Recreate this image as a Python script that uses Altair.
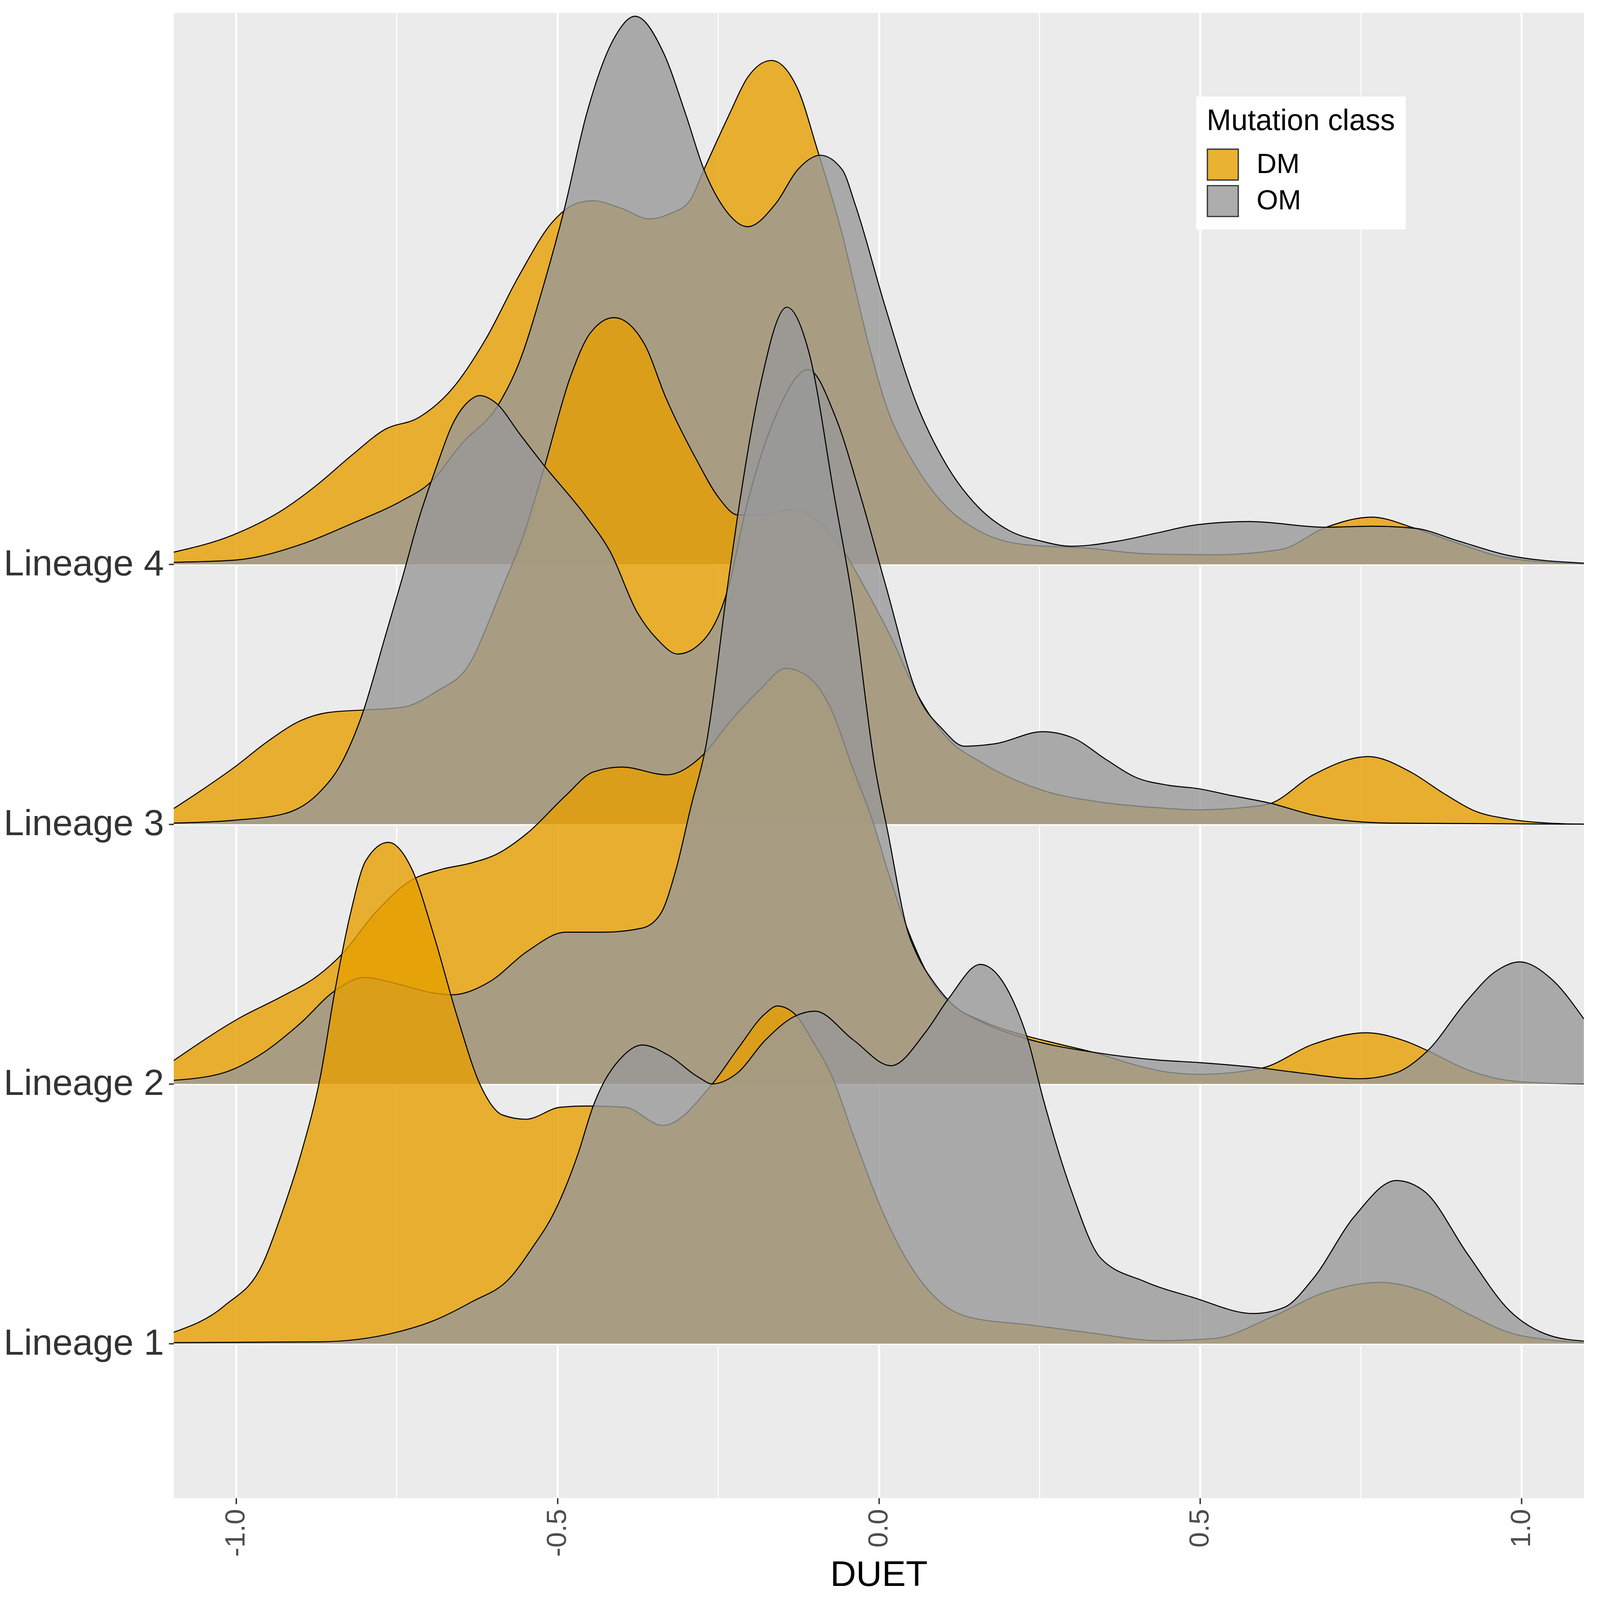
import json
import altair as alt
import pandas as pd

lineages = ["Lineage 1", "Lineage 2", "Lineage 3", "Lineage 4"]
classes = ["DM", "OM"]
class_colors = ["#E69F00", "#999999"]
x_major = [-1.0, -0.5, 0.0, 0.5, 1.0]
x_minor = [-0.75, -0.25, 0.25, 0.75]
x_range = [-1.097, 1.097]
y_range = [0.406, 6.124]

# (DUET value, ridge height above the lineage baseline)
l4_dm = [(-1.097, 0.047), (-1.005, 0.113), (-0.924, 0.215), (-0.872, 0.31), (-0.82, 0.42),
         (-0.768, 0.52), (-0.716, 0.565), (-0.664, 0.675), (-0.612, 0.865), (-0.56, 1.11),
         (-0.507, 1.32), (-0.47, 1.39), (-0.445, 1.40), (-0.40, 1.37), (-0.357, 1.33),
         (-0.325, 1.35), (-0.294, 1.40), (-0.272, 1.52), (-0.233, 1.73), (-0.204, 1.875),
         (-0.167, 1.94), (-0.126, 1.83), (-0.096, 1.60), (-0.06, 1.30), (-0.016, 0.85),
         (0.009, 0.63), (0.057, 0.38), (0.106, 0.22), (0.155, 0.13), (0.227, 0.076),
         (0.322, 0.063), (0.424, 0.04), (0.525, 0.037), (0.625, 0.057), (0.696, 0.143),
         (0.767, 0.182), (0.834, 0.139), (0.902, 0.08), (0.979, 0.024), (1.097, 0.002)]
l4_om = [(-1.097, 0.008), (-1.0, 0.017), (-0.9, 0.076), (-0.82, 0.157), (-0.742, 0.245),
         (-0.70, 0.31), (-0.647, 0.47), (-0.593, 0.61), (-0.559, 0.78), (-0.522, 1.07),
         (-0.489, 1.37), (-0.455, 1.73), (-0.413, 2.02), (-0.379, 2.11), (-0.335, 1.97),
         (-0.30, 1.73), (-0.272, 1.52), (-0.243, 1.38), (-0.204, 1.30), (-0.16, 1.39),
         (-0.126, 1.52), (-0.091, 1.575), (-0.057, 1.52), (-0.036, 1.38), (0.009, 1.0),
         (0.057, 0.63), (0.106, 0.38), (0.155, 0.22), (0.203, 0.13), (0.252, 0.09),
         (0.30, 0.07), (0.373, 0.09), (0.431, 0.12), (0.496, 0.153), (0.576, 0.165),
         (0.696, 0.143), (0.767, 0.147), (0.834, 0.139), (0.902, 0.09), (0.979, 0.035),
         (1.097, 0.005)]
l3_dm = [(-1.097, 0.06), (-1.054, 0.13), (-1.002, 0.22), (-0.95, 0.32), (-0.898, 0.40),
         (-0.856, 0.43), (-0.798, 0.44), (-0.741, 0.45), (-0.689, 0.51), (-0.636, 0.62),
         (-0.605, 0.79), (-0.584, 0.92), (-0.553, 1.11), (-0.522, 1.36), (-0.48, 1.72),
         (-0.449, 1.89), (-0.412, 1.95), (-0.365, 1.85), (-0.331, 1.64), (-0.283, 1.40),
         (-0.250, 1.26), (-0.219, 1.19), (-0.185, 1.19), (-0.136, 1.21), (-0.087, 1.15),
         (-0.052, 1.04), (-0.015, 0.88), (0.021, 0.71), (0.060, 0.50), (0.109, 0.325),
         (0.158, 0.24), (0.255, 0.13), (0.345, 0.085), (0.435, 0.063), (0.496, 0.055),
         (0.576, 0.066), (0.61, 0.08), (0.676, 0.19), (0.762, 0.26), (0.828, 0.20),
         (0.878, 0.12), (0.928, 0.05), (0.979, 0.02), (1.05, 0.003), (1.097, 0.0)]
l3_om = [(-1.097, 0.004), (-1.003, 0.015), (-0.925, 0.04), (-0.872, 0.118), (-0.836, 0.235),
         (-0.804, 0.42), (-0.767, 0.73), (-0.741, 0.95), (-0.715, 1.18), (-0.689, 1.37),
         (-0.663, 1.54), (-0.637, 1.63), (-0.621, 1.65), (-0.595, 1.62), (-0.558, 1.50),
         (-0.522, 1.385), (-0.454, 1.18), (-0.418, 1.05), (-0.376, 0.816), (-0.344, 0.71),
         (-0.313, 0.655), (-0.272, 0.71), (-0.233, 0.92), (-0.208, 1.20), (-0.159, 1.58),
         (-0.11, 1.75), (-0.067, 1.565), (-0.028, 1.26), (0.011, 0.917), (0.06, 0.50),
         (0.099, 0.366), (0.133, 0.30), (0.182, 0.31), (0.255, 0.356), (0.304, 0.33),
         (0.353, 0.25), (0.40, 0.18), (0.45, 0.15), (0.496, 0.137), (0.549, 0.11),
         (0.61, 0.08), (0.676, 0.035), (0.73, 0.013), (0.8, 0.004), (1.097, 0.0)]
l2_dm = [(-1.097, 0.09), (-0.99, 0.26), (-0.93, 0.335), (-0.871, 0.42), (-0.835, 0.50),
         (-0.783, 0.66), (-0.73, 0.78), (-0.682, 0.825), (-0.635, 0.85), (-0.594, 0.885),
         (-0.547, 0.965), (-0.487, 1.11), (-0.445, 1.20), (-0.40, 1.22), (-0.33, 1.19),
         (-0.272, 1.27), (-0.233, 1.39), (-0.184, 1.52), (-0.145, 1.60), (-0.106, 1.56),
         (-0.07, 1.42), (-0.044, 1.24), (-0.008, 1.0), (0.014, 0.82), (0.041, 0.62),
         (0.059, 0.51), (0.086, 0.38), (0.109, 0.315), (0.163, 0.24), (0.222, 0.19),
         (0.276, 0.156), (0.339, 0.118), (0.40, 0.072), (0.45, 0.045), (0.50, 0.037),
         (0.596, 0.061), (0.675, 0.152), (0.758, 0.197), (0.819, 0.165), (0.854, 0.128),
         (0.915, 0.055), (0.98, 0.013), (1.05, 0.002), (1.097, 0.0)]
l2_om = [(-1.097, 0.014), (-1.019, 0.043), (-0.96, 0.116), (-0.90, 0.233), (-0.847, 0.357),
         (-0.80, 0.41), (-0.752, 0.387), (-0.693, 0.35), (-0.664, 0.343), (-0.605, 0.394),
         (-0.547, 0.51), (-0.487, 0.584), (-0.428, 0.584), (-0.368, 0.60), (-0.339, 0.657),
         (-0.315, 0.83), (-0.292, 1.07), (-0.269, 1.30), (-0.235, 1.92), (-0.22, 2.18),
         (-0.186, 2.67), (-0.143, 2.99), (-0.108, 2.81), (-0.069, 2.26), (-0.040, 1.85),
         (-0.006, 1.22), (0.014, 0.97), (0.046, 0.58), (0.059, 0.50), (0.086, 0.39),
         (0.109, 0.32), (0.163, 0.235), (0.222, 0.18), (0.339, 0.12), (0.434, 0.092),
         (0.50, 0.082), (0.596, 0.061), (0.653, 0.043), (0.749, 0.02), (0.805, 0.043),
         (0.854, 0.128), (0.915, 0.32), (0.958, 0.43), (0.997, 0.47), (1.046, 0.405),
         (1.097, 0.25)]
l1_dm = [(-1.097, 0.044), (-1.018, 0.146), (-0.958, 0.31), (-0.929, 0.50), (-0.899, 0.73),
         (-0.869, 1.025), (-0.846, 1.36), (-0.822, 1.655), (-0.798, 1.86), (-0.763, 1.93),
         (-0.727, 1.83), (-0.692, 1.57), (-0.656, 1.26), (-0.620, 0.996), (-0.585, 0.88),
         (-0.549, 0.864), (-0.496, 0.91), (-0.455, 0.915), (-0.395, 0.91), (-0.336, 0.84),
         (-0.259, 1.00), (-0.218, 1.14), (-0.177, 1.27), (-0.158, 1.30), (-0.131, 1.27),
         (-0.104, 1.17), (-0.072, 1.025), (-0.04, 0.805), (0.005, 0.513), (0.051, 0.293),
         (0.096, 0.16), (0.141, 0.102), (0.232, 0.073), (0.322, 0.044), (0.435, 0.012),
         (0.522, 0.02), (0.609, 0.10), (0.697, 0.20), (0.78, 0.236), (0.85, 0.20),
         (0.916, 0.116), (0.981, 0.043), (1.045, 0.014), (1.097, 0.004)]
l1_om = [(-1.097, 0.004), (-0.869, 0.007), (-0.75, 0.044), (-0.693, 0.088), (-0.634, 0.16),
         (-0.575, 0.25), (-0.54, 0.366), (-0.504, 0.51), (-0.468, 0.73), (-0.445, 0.91),
         (-0.397, 1.11), (-0.368, 1.15), (-0.327, 1.11), (-0.28, 1.025), (-0.259, 1.00),
         (-0.221, 1.04), (-0.176, 1.17), (-0.131, 1.26), (-0.099, 1.28), (-0.04, 1.17),
         (0.019, 1.07), (0.073, 1.20), (0.109, 1.33), (0.158, 1.46), (0.209, 1.32),
         (0.232, 1.17), (0.255, 0.95), (0.30, 0.586), (0.345, 0.33), (0.413, 0.24),
         (0.489, 0.178), (0.583, 0.116), (0.631, 0.14), (0.675, 0.248), (0.74, 0.49),
         (0.805, 0.628), (0.849, 0.586), (0.916, 0.345), (0.981, 0.128), (1.046, 0.03),
         (1.097, 0.01)]

draw_order = [
    ("Lineage 4", "DM", l4_dm), ("Lineage 4", "OM", l4_om),
    ("Lineage 3", "DM", l3_dm), ("Lineage 3", "OM", l3_om),
    ("Lineage 2", "DM", l2_dm), ("Lineage 2", "OM", l2_om),
    ("Lineage 1", "DM", l1_dm), ("Lineage 1", "OM", l1_om),
]

rows = []
for lin, cls, pts in draw_order:
    for xv, hv in pts:
        rows.append({"lineage": lin, "cls": cls, "key": lin + "|" + cls,
                     "base": lineages.index(lin) + 1, "x": xv, "h": hv})
df = pd.DataFrame(rows)

FONT = "Liberation Sans"

xscale = alt.Scale(domain=x_range, nice=False, zero=False)
yscale = alt.Scale(domain=y_range, nice=False, zero=False)

xaxis = alt.Axis(values=x_major,
                 labelExpr="(datum.value < 0 ? '-' : '') + format(abs(datum.value), '.1f')",
                 labelAngle=270, labelFontSize=79, labelColor="#4D4D4D", labelFont=FONT,
                 labelPadding=14, labelLimit=3000, tickSize=17, tickWidth=4, tickColor="#333333",
                 grid=True, gridColor="white", gridWidth=6, domain=False,
                 title="DUET", titleFontSize=102, titleFontWeight="normal", titleFont=FONT,
                 titleColor="black", titlePadding=2)
yaxis = alt.Axis(values=[1, 2, 3, 4],
                 labelExpr=json.dumps(lineages) + "[datum.value - 1]",
                 labelFontSize=104, labelColor="#333333", labelFont=FONT, labelLimit=3000,
                 labelPadding=14, tickSize=14, tickWidth=4, tickColor="#333333",
                 grid=True, gridColor="white", gridWidth=6, domain=False,
                 title=None)

X = alt.X("x:Q", scale=xscale, axis=xaxis)
Y = alt.Y("top:Q", scale=yscale, axis=yaxis)
legend = alt.Legend(title="Mutation class", orient="none", legendX=2914, legendY=239,
                    fillColor="white", padding=30, titleFontSize=84, titleFont=FONT,
                    titleFontWeight="normal", titleColor="black", titlePadding=34,
                    titleLimit=3000, labelLimit=3000,
                    labelFontSize=79, labelFont=FONT, labelColor="black", labelOffset=50,
                    symbolType="square", symbolSize=7744, symbolStrokeColor="black",
                    symbolStrokeWidth=3.5, symbolOpacity=0.8, rowPadding=2)
COLOR = alt.Color("cls:N", scale=alt.Scale(domain=classes, range=class_colors), legend=legend)

base = alt.Chart(df).transform_calculate(top="datum.base + datum.h")

minor = alt.Chart(pd.DataFrame({"x": x_minor})).mark_rule(
    color="white", strokeWidth=3).encode(x=X)

layers = [minor]
for lin, cls, _ in draw_order:
    key = lin + "|" + cls
    sub = base.transform_filter(alt.datum.key == key)
    area = sub.mark_area(interpolate="monotone", opacity=0.8, clip=True).encode(
        x=X, y=Y, y2="base:Q", color=COLOR)
    line = sub.mark_line(interpolate="monotone", color="black", strokeWidth=3, clip=True).encode(
        x=X, y=Y)
    layers += [area, line]

chart = alt.layer(*layers).properties(
    width=4019, height=4233,
    autosize=alt.AutoSizeParams(type="none"),
    padding={"left": 486, "top": -230, "right": 37, "bottom": 539},
    background="white",
).configure_view(fill="#EBEBEB", stroke="transparent")

chart.save("out.html", embed_options={"renderer": "svg", "actions": False})
